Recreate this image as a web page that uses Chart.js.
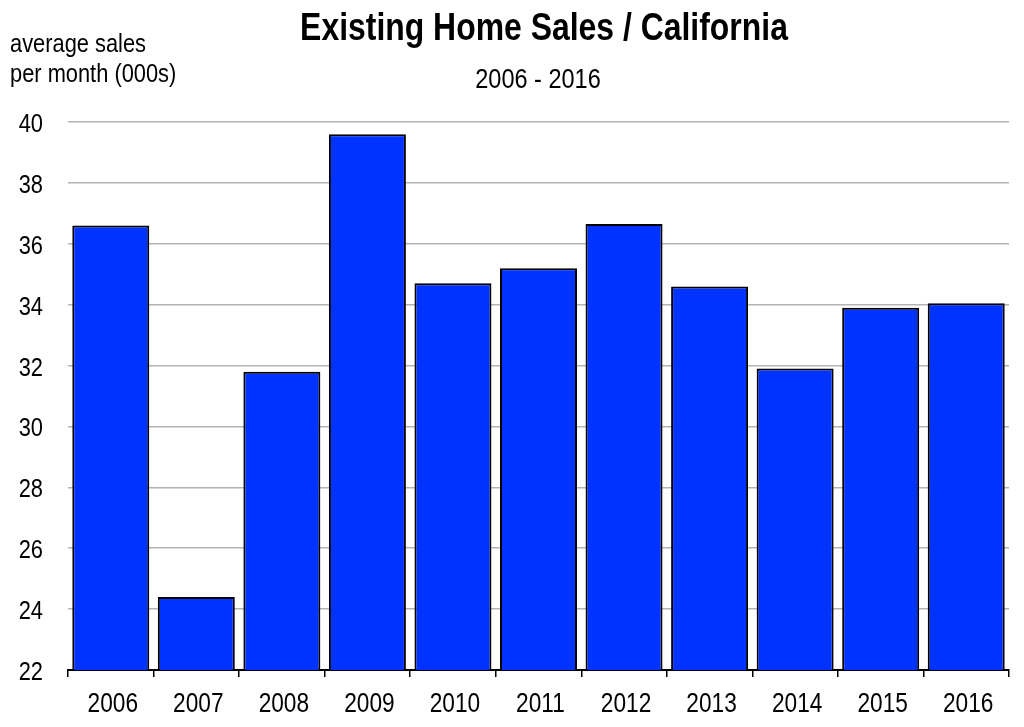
<!DOCTYPE html>
<html>
<head>
<meta charset="utf-8">
<script src="https://cdn.jsdelivr.net/npm/chart.js@4"></script>
<style>
  html, body { margin: 0; padding: 0; background: #fff; }
  #wrap { width: 1024px; height: 727px; }
</style>
</head>
<body>
<div id="wrap"><canvas id="sales"></canvas></div>
<script>
var years = ['2006','2007','2008','2009','2010','2011','2012','2013','2014','2015','2016'];
var avgSales = [36.6, 24.4, 31.8, 39.6, 34.7, 35.2, 36.65, 34.6, 31.9, 33.9, 34.05];
var yTicks = [22, 24, 26, 28, 30, 32, 34, 36, 38, 40];

var FONT = "'Liberation Sans', Arial, sans-serif";
var NARROW = 0.84; // squeeze text to look like Arial Narrow

function narrowText(ctx, txt, x, y, align) {
    ctx.save();
    ctx.translate(x, y);
    ctx.scale(NARROW, 1);
    ctx.textAlign = align;
    ctx.fillText(txt, 0, 0);
    ctx.restore();
}

// title, subtitle, axis caption and tick labels in a narrow face
var narrowLabels = {
    id: 'narrowLabels',
    afterDraw: function(chart) {
        var ctx = chart.ctx;
        var xs = chart.scales.x, ys = chart.scales.y;
        ctx.save();
        ctx.fillStyle = '#000';
        ctx.textBaseline = 'alphabetic';

        ctx.font = 'bold 38px ' + FONT;
        narrowText(ctx, 'Existing Home Sales / California', 544, 40, 'center');

        ctx.font = '28px ' + FONT;
        narrowText(ctx, '2006 - 2016', 538, 88, 'center');

        ctx.font = '26px ' + FONT;
        narrowText(ctx, 'average sales', 10, 52, 'left');
        narrowText(ctx, 'per month (000s)', 10, 82, 'left');

        ctx.font = '26px ' + FONT;
        ys.ticks.forEach(function(t, i) {
            narrowText(ctx, String(t.value), 43, ys.getPixelForTick(i) + 10, 'right');
        });

        ctx.font = '27px ' + FONT;
        xs.ticks.forEach(function(t, i) {
            narrowText(ctx, xs.getLabelForValue(t.value), xs.getPixelForTick(i) + 2, 712, 'center');
        });
        ctx.restore();
    }
};

new Chart(
    document.getElementById('sales'),
    {
        type: 'bar',
        data: {
            labels: years,
            datasets: [
                {
                    label: 'average sales per month (000s)',
                    data: avgSales,
                    backgroundColor: '#0033ff',
                    borderColor: '#000',
                    borderWidth: 2,
                    borderSkipped: false,
                    barPercentage: 0.9,
                    categoryPercentage: 1.0
                }
            ]
        },
        options: {
            responsive: true,
            maintainAspectRatio: false,
            animation: false,
            layout: {
                padding: { top: 122, left: 0, right: 15, bottom: 0 }
            },
            plugins: {
                legend: { display: false },
                tooltip: { enabled: false },
                title: { display: false }
            },
            scales: {
                x: {
                    afterFit: function(scale) { scale.height = 57; },
                    grid: {
                        drawOnChartArea: false,
                        drawTicks: true,
                        tickLength: 7,
                        color: '#000',
                        lineWidth: 1.5
                    },
                    border: { display: true, color: '#000', width: 2 },
                    ticks: { display: false }
                },
                y: {
                    min: 22,
                    max: 40,
                    afterFit: function(scale) { scale.width = 68; },
                    afterBuildTicks: function(scale) {
                        scale.ticks = yTicks.map(function(v) { return { value: v }; });
                    },
                    grid: {
                        drawTicks: false,
                        color: '#b4b4b4',
                        lineWidth: 1.5
                    },
                    border: { display: false },
                    ticks: { display: false }
                }
            }
        },
        plugins: [narrowLabels]
    }
);
</script>
</body>
</html>
